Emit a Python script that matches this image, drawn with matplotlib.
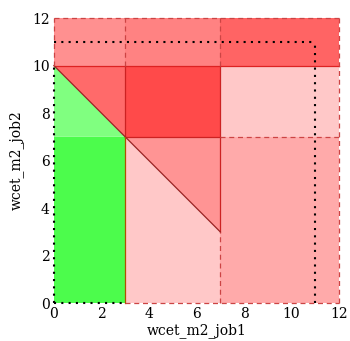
import matplotlib
matplotlib.use("Agg")
import matplotlib.pyplot as plt
from matplotlib.patches import Polygon

# regions of the (wcet_m2_job1, wcet_m2_job2) plane
regions = [
    ([(0, 0), (3, 0), (3, 7), (0, 7)], "#4cfc4c"),
    ([(0, 7), (3, 7), (0, 10)], "#80ff80"),
    ([(3, 0), (7, 0), (7, 3), (3, 7)], "#ffc8c8"),
    ([(3, 7), (7, 3), (7, 7)], "#ff9494"),
    ([(7, 0), (12, 0), (12, 7), (7, 7)], "#ffaaaa"),
    ([(0, 10), (3, 7), (3, 10)], "#ff6a6a"),
    ([(3, 7), (7, 7), (7, 10), (3, 10)], "#ff4a4a"),
    ([(7, 7), (12, 7), (12, 10), (7, 10)], "#ffc8c8"),
    ([(0, 10), (3, 10), (3, 12), (0, 12)], "#ff9090"),
    ([(3, 10), (7, 10), (7, 12), (3, 12)], "#ff8282"),
    ([(7, 10), (12, 10), (12, 12), (7, 12)], "#ff6464"),
]

solid = [
    ([0, 12], [10, 10], "#dd2222"),
    ([3, 3], [7, 10], "#cc2222"),
    ([3, 7], [7, 7], "#cc2222"),
    ([7, 7], [3, 10], "#cc2222"),
    ([0, 7], [10, 3], "#992222"),
    ([3, 3], [0, 7], "#aa5500"),
]
dashed = [
    ([0, 12], [12, 12]),
    ([12, 12], [0, 12]),
    ([0, 0], [10, 12]),
    ([3, 3], [10, 12]),
    ([7, 7], [10, 12]),
    ([7, 12], [7, 7]),
    ([7, 7], [0, 3]),
    ([3, 12], [0, 0]),
]
dotted = [
    ([0, 11], [11, 11]),
    ([11, 11], [0, 11]),
    ([0, 0], [0, 10]),
    ([0, 3], [0, 0]),
]

xticks = [0, 2, 4, 6, 8, 10, 12]
yticks = [0, 2, 4, 6, 8, 10, 12]

fig = plt.figure(figsize=(3.5, 3.41), dpi=100)
ax = fig.add_axes([0.154, 0.111, 0.815, 0.836])

for verts, color in regions:
    ax.add_patch(Polygon(verts, closed=True, facecolor=color, edgecolor="none"))

for xs, ys, c in solid:
    ax.plot(xs, ys, color=c, lw=0.9, clip_on=False)
for xs, ys in dashed:
    ax.plot(xs, ys, color="#cc4444", lw=0.9, ls=(0, (4, 3)), clip_on=False)
for xs, ys in dotted:
    ax.plot(xs, ys, color="black", lw=1.5, ls=(0, (1, 2.5)), clip_on=False)

ax.set_xlim(0, 12)
ax.set_ylim(0, 12)
ax.set_xticks(xticks)
ax.set_yticks(yticks)
for s in ax.spines.values():
    s.set_visible(False)
ax.tick_params(length=0, labelsize=10, pad=3)
for lab in ax.get_xticklabels() + ax.get_yticklabels():
    lab.set_family("DejaVu Serif")
ax.set_xlabel("wcet_m2_job1", family="DejaVu Serif", fontsize=10, labelpad=1)
ax.set_ylabel("wcet_m2_job2", family="DejaVu Serif", fontsize=10, labelpad=6)

fig.savefig("out.png", dpi=100)
